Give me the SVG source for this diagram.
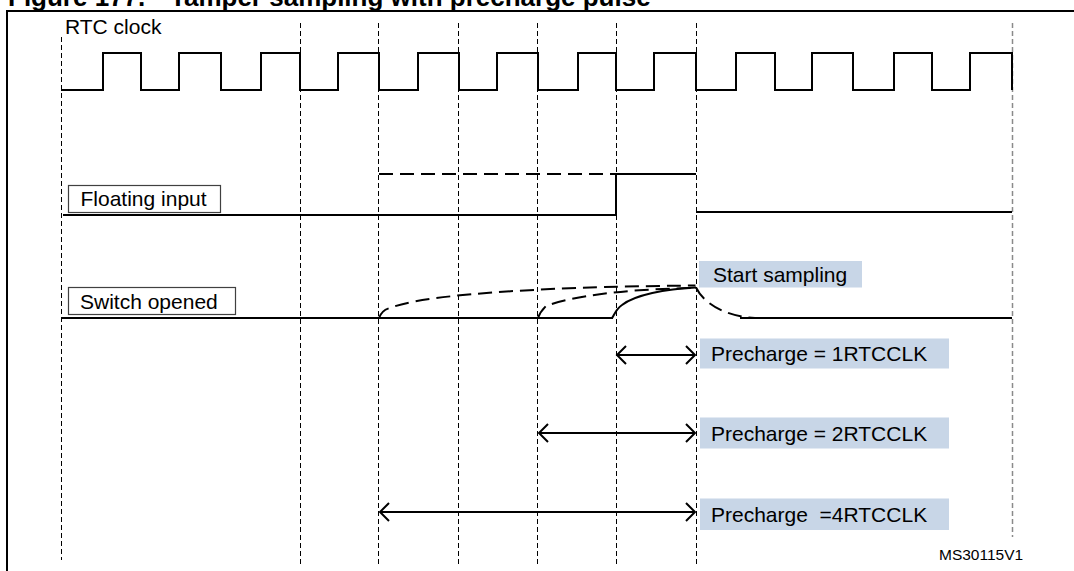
<svg xmlns="http://www.w3.org/2000/svg" width="1074" height="571" viewBox="0 0 1074 571">
<defs>
<style>
text { font-family: "Liberation Sans", Arial, sans-serif; fill: #000; }
.lbl { font-size: 21px; white-space: pre; }
.title { font-size: 26px; font-weight: bold; }
.ref { font-size: 15.5px; }
.frame { stroke: #000; stroke-width: 2; fill: none; }
.grid { stroke: #000; stroke-width: 1; stroke-dasharray: 5 3; fill: none; }
.grid-end { stroke: #8a8a8a; stroke-width: 1.5; stroke-dasharray: 5 3; fill: none; }
.sig { stroke: #000; stroke-width: 2; fill: none; }
.sigd { stroke: #000; stroke-width: 2; fill: none; stroke-dasharray: 14 7; }
.box { fill: #fff; stroke: #404040; stroke-width: 1.2; }
.note { fill: #c8d6e7; stroke: none; }
.arrow { stroke: #000; stroke-width: 2; fill: none; marker-start: url(#ah); marker-end: url(#ah); }
</style>
<marker id="ah" viewBox="-12 -12 24 24" markerWidth="24" markerHeight="24" markerUnits="userSpaceOnUse" refX="0" refY="0" orient="auto-start-reverse">
<path d="M-9,-9 L0,0 L-9,9" fill="none" stroke="#000" stroke-width="2"/>
</marker>
</defs>

<g id="frame">
<path class="frame" d="M7,571 V11 H1074"/>
<text class="title" x="8" y="6">Figure 177.<tspan x="170">Tamper sampling with precharge pulse</tspan></text>
</g>

<g id="grid">
<line class="grid" x1="61.5" y1="37" x2="61.5" y2="560"/>
<line class="grid" x1="300.5" y1="23" x2="300.5" y2="566"/>
<line class="grid" x1="378.5" y1="23" x2="378.5" y2="566"/>
<line class="grid" x1="458.5" y1="23" x2="458.5" y2="566"/>
<line class="grid" x1="537.5" y1="23" x2="537.5" y2="566"/>
<line class="grid" x1="616.5" y1="23" x2="616.5" y2="566"/>
<line class="grid" x1="696.5" y1="23" x2="696.5" y2="566"/>
<line class="grid-end" x1="1012.5" y1="23" x2="1012.5" y2="537"/>
</g>

<g id="rtc-clock">
<text class="lbl" x="65" y="34">RTC clock</text>
<path class="sig" d="M61,90 H103 V53 H141 V90 H179 V53 H221 V90 H261 V53 H300 V90 H338 V53 H379 V90 H418 V53 H459 V90 H497 V53 H538 V90 H578 V53 H616 V90 H654 V53 H696 V90 H736 V53 H775 V90 H812 V53 H853 V90 H894 V53 H932 V90 H970 V53 H1012 V90"/>
</g>

<g id="floating-input">
<rect class="box" x="68.5" y="185.5" width="152" height="27"/>
<text class="lbl" x="80.5" y="206">Floating input</text>
<path class="sig" d="M63,215 H616 V174 H696"/>
<path class="sigd" d="M379,174 H616"/>
<path class="sig" d="M696,212 H1012"/>
</g>

<g id="switch-opened">
<rect class="box" x="68.5" y="287.5" width="167" height="27"/>
<text class="lbl" x="80" y="308.5">Switch opened</text>
<path class="sig" d="M61,318 H613"/>
<path class="sig" d="M612,318 C614,316 615,310 622,305 C635,295 665,289 696,287.5"/>
<path class="sig" d="M740,318 H1012"/>
<path class="sigd" d="M379,318 Q382,310 390,308 C420,296 520,287 695.5,285.5"/>
<path class="sigd" d="M538,318 Q540,312 546,306 C570,297 620,289 695.5,288"/>
<path class="sigd" d="M696,287.5 C702,300 720,316 755,318"/>
</g>

<g id="start-sampling">
<rect class="note" x="699" y="261" width="163" height="26.5"/>
<text class="lbl" x="713" y="281.5">Start sampling</text>
</g>

<g id="precharge-1">
<rect class="note" x="700" y="338.5" width="249" height="30"/>
<text class="lbl" x="711" y="361">Precharge = 1RTCCLK</text>
</g>
<g id="precharge-2">
<rect class="note" x="700" y="417.5" width="249" height="31"/>
<text class="lbl" x="711" y="440.5">Precharge = 2RTCCLK</text>
</g>
<g id="precharge-4">
<rect class="note" x="700" y="498.5" width="249" height="31.5"/>
<text class="lbl" x="711" y="521.5">Precharge  =4RTCCLK</text>
</g>

<g id="connectors">
<path class="arrow" d="M617,355 H695"/>
<path class="arrow" d="M539,433 H695"/>
<path class="arrow" d="M380,512 H695"/>
</g>

<g id="ref-code">
<text class="ref" x="939" y="559.5">MS30115V1</text>
</g>
</svg>
